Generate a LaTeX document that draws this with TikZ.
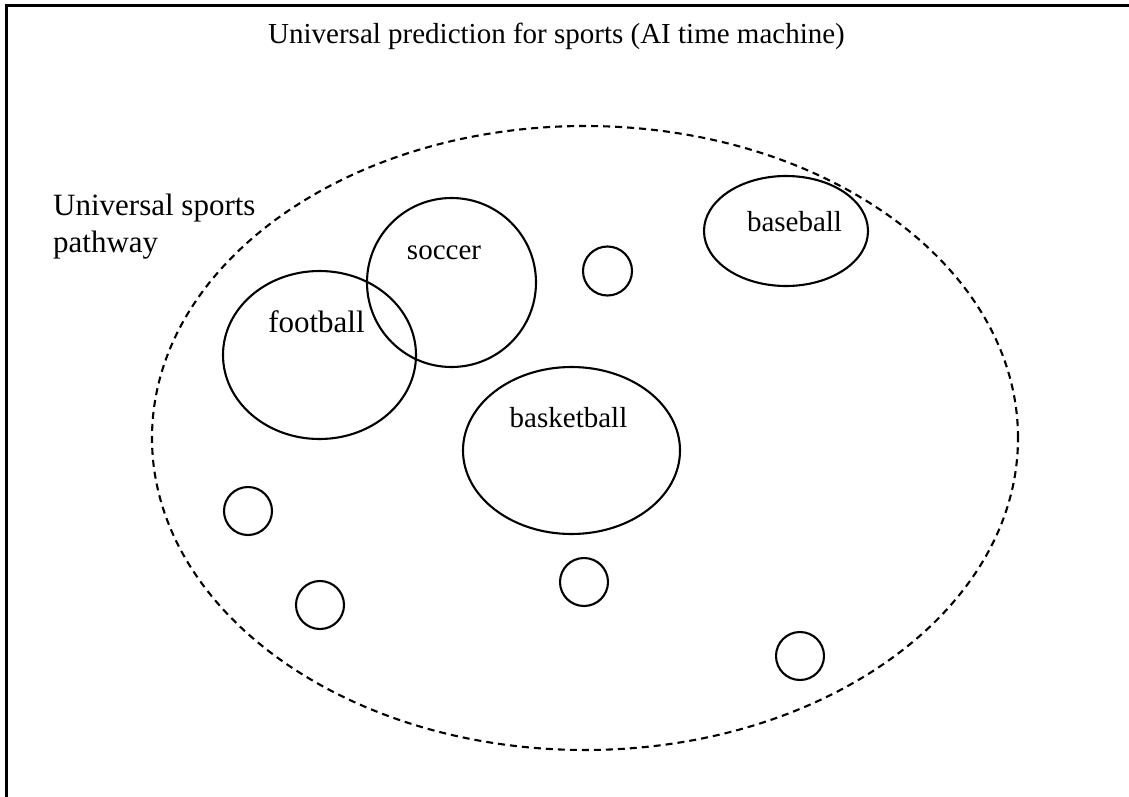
\documentclass[tikz,border=0pt]{standalone}
\usepackage{fontspec}
\setmainfont{Liberation Serif}
\usetikzlibrary{shapes.geometric}
\begin{document}
\begin{tikzpicture}[x=1pt,y=-1pt,
  ring/.style={draw, ellipse, line width=2.1pt, inner sep=0pt},
  dot/.style={draw, circle, line width=2.1pt, inner sep=0pt, minimum size=48pt},
  tag/.style={inner sep=0pt, anchor=base, font=\fontsize{29}{34}\selectfont},
  frameline/.style={line width=2.4pt}
]
\useasboundingbox (0,0) rectangle (1129,797);
% open frame: left and top edges
\coordinate (fb) at (6.5,797);
\coordinate (fc) at (6.5,5.5);
\coordinate (fr) at (1129,5.5);
\draw[frameline] (fb) -- (fc) -- (fr);

\node[tag, font=\fontsize{29}{34}\selectfont] (title) at (556.5,44) {Universal prediction for sports (AI time machine)};

% the whole pathway
\node[draw, ellipse, line width=2.1pt, dash pattern=on 7pt off 5pt, inner sep=0pt,
      minimum width=866pt, minimum height=624pt] (pathway) at (585,438) {};
\node[inner sep=0pt, anchor=base west, font=\fontsize{31}{37}\selectfont] (pw1) at (53,215) {Universal sports};
\node[inner sep=0pt, anchor=base west, font=\fontsize{31}{37}\selectfont] (pw2) at (53,252) {pathway};

% sports
\node[ring, minimum width=193pt, minimum height=168pt] (football) at (319.5,355) {};
\node[ring, minimum width=169pt, minimum height=169pt] (soccer) at (451.5,282.5) {};
\node[ring, minimum width=217pt, minimum height=167pt] (basketball) at (571.5,450.5) {};
\node[ring, minimum width=164pt, minimum height=110pt] (baseball) at (786,231) {};

\node[tag, font=\fontsize{31}{36}\selectfont] (lfootball) at (316.5,332) {football};
\node[tag] (lsoccer) at (444,259) {soccer};
\node[tag] (lbasketball) at (568.5,427) {basketball};
\node[tag] (lbaseball) at (794.5,231) {baseball};

% small unnamed sports
\node[dot, minimum size=49pt] (s1) at (607.5,271) {};
\node[dot] (s2) at (248,511) {};
\node[dot] (s3) at (320,605) {};
\node[dot] (s4) at (584,582) {};
\node[dot] (s5) at (800,656) {};
\end{tikzpicture}
\end{document}
